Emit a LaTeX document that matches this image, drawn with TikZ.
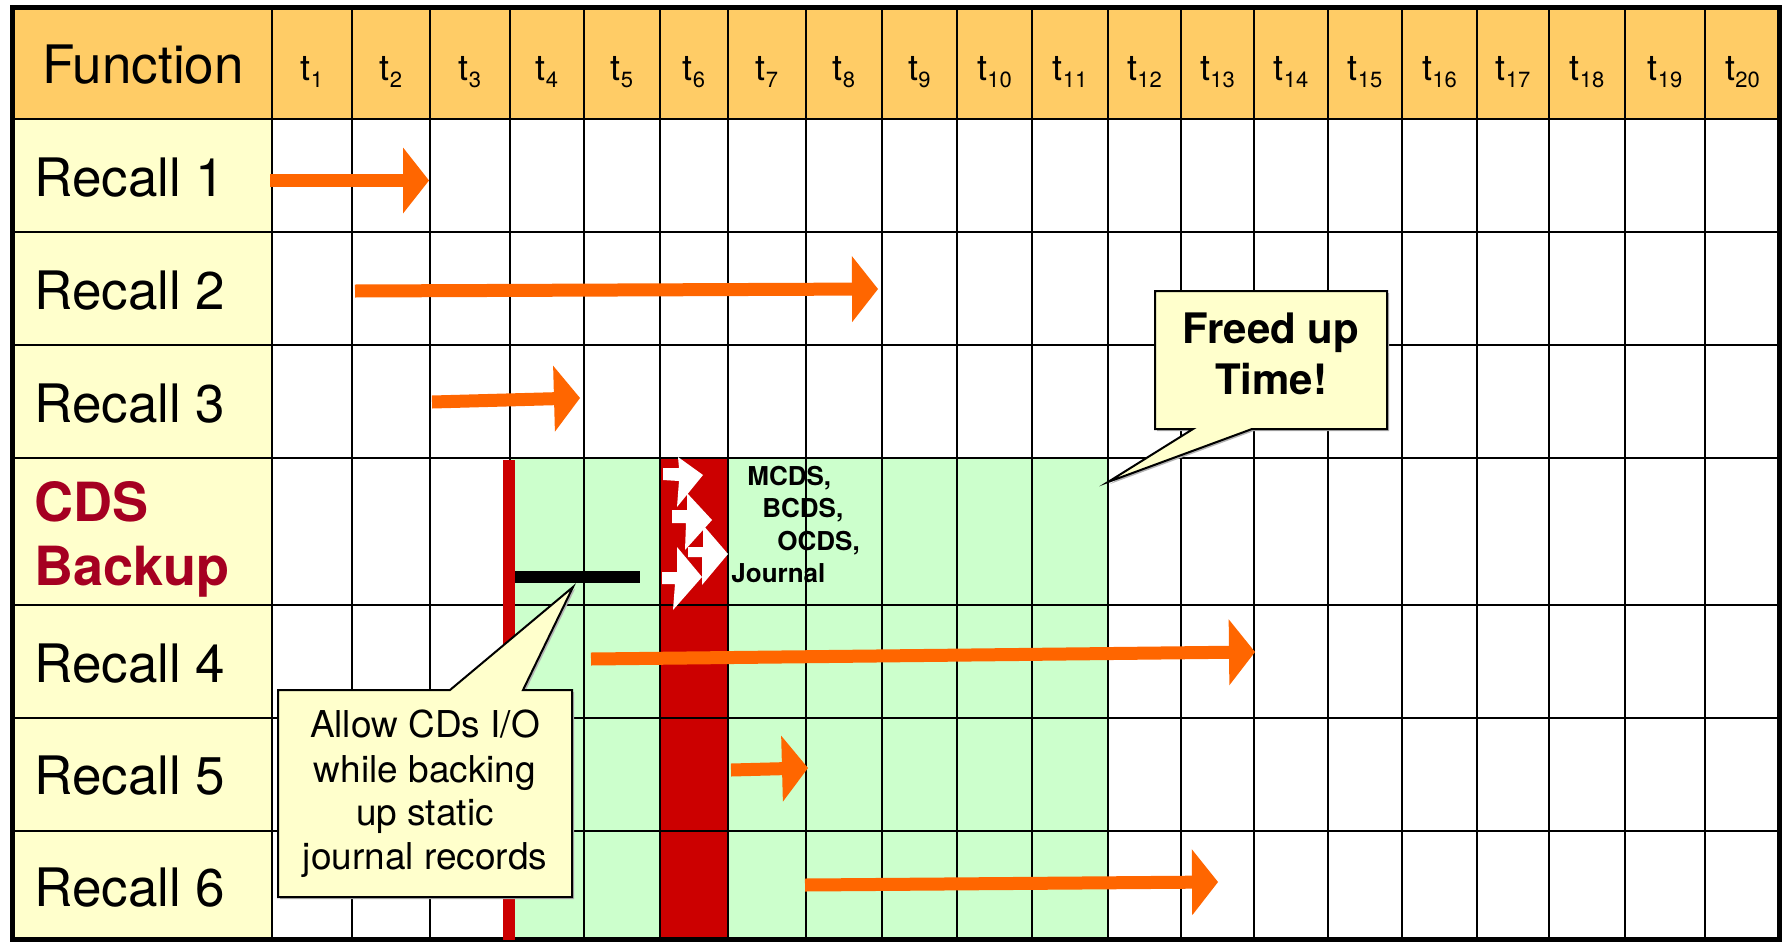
\documentclass[tikz,border=0pt]{standalone}
\usepackage{fontspec}
\setmainfont{TeX Gyre Heros}
\usetikzlibrary{arrows.meta}
\definecolor{hdr}{HTML}{FFCC66}
\definecolor{lbl}{HTML}{FFFFCC}
\definecolor{grn}{HTML}{CCFFCC}
\definecolor{cdsred}{HTML}{A50021}
\definecolor{blockred}{HTML}{CC0000}
\definecolor{org}{HTML}{FF6600}
\newcommand\tsub[1]{t\raisebox{-3.5pt}{\fontsize{11}{11}\selectfont #1}}
\begin{document}
\begin{tikzpicture}[x=0.5pt,y=-0.5pt,
  gridline/.style={line width=1.4pt,black},
  lab/.style={anchor=base west,inner sep=0pt,font=\fontsize{26.5}{30}\selectfont},
  cdslab/.style={anchor=base west,inner sep=0pt,text=cdsred,font=\bfseries\fontsize{27}{30}\selectfont},
  hd/.style={anchor=base,inner sep=0pt,font=\fontsize{18}{20}\selectfont},
  garrow/.style={draw=org,line width=6.5pt,-{Triangle[length=13pt,width=33pt,line width=0pt]}},
  warrow/.style={fill=white,draw=none},
  callout/.style={fill=lbl,draw=black,line width=1pt,line join=miter},
  cshadow/.style={fill=black!30,draw=none},
  ctext/.style={anchor=base,inner sep=0pt,font=\fontsize{18.5}{22}\selectfont},
  ftext/.style={anchor=base,inner sep=0pt,font=\bfseries\fontsize{21}{25}\selectfont},
  smalllab/.style={anchor=base west,inner sep=0pt,font=\bfseries\fontsize{13}{15}\selectfont}]
\useasboundingbox (0,0) rectangle (1782,942);
\fill[white] (0,0) rectangle (1782,942);
% fills
\fill[hdr] (12,7) rectangle (1780,119);
\fill[lbl] (12,119) rectangle (272,940);
\fill[grn] (509,458) rectangle (1108,940);
\fill[blockred] (660,458) rectangle (728,940);
% grid
\foreach \x in {272,352,430,510,584,660,728,806,882,957,1032,1108,1181,1254,1328,1402,1477,1549,1625,1705}
  \draw[gridline] (\x,7) -- (\x,940);
\foreach \y in {119,232,345,458,605,718,831}
  \draw[gridline] (12,\y) -- (1780,\y);
% frame
\draw[line width=2.5pt] (12.5,7) rectangle (1779.5,939.5);
% red thin line and black bar
\draw[blockred,line width=6pt] (509,460) -- (509,940);
\coordinate (bar1) at (515,577);
\coordinate (bar2) at (640,577);
\draw[black,line width=6pt] (bar1) -- (bar2);
% header labels
\node[anchor=base west,inner sep=0pt,font=\fontsize{26.5}{30}\selectfont] (fn) at (42,83) {Function};
\foreach \i/\cx in {1/312,2/391,3/470,4/547,5/622,6/694,7/767,8/844,9/919.5,10/994.5,11/1070,12/1144.5,13/1217.5,14/1291,15/1365,16/1439.5,17/1513,18/1587,19/1665,20/1742.5}
  \node[hd] (t\i) at (\cx,80) {\tsub{\i}};
% row labels
\node[lab] (r1) at (34,196) {Recall 1};
\node[lab] (r2) at (34,309) {Recall 2};
\node[lab] (r3) at (34,422) {Recall 3};
\node[cdslab] (cds1) at (34,521) {CDS};
\node[cdslab] (cds2) at (34,585) {Backup};
\node[lab] (r4) at (34,682) {Recall 4};
\node[lab] (r5) at (34,794) {Recall 5};
\node[lab] (r6) at (34,906) {Recall 6};
% orange arrows
\coordinate (a1s) at (270,180.5); \coordinate (a1e) at (429,180.5);
\coordinate (a2s) at (355,291);   \coordinate (a2e) at (878,289);
\coordinate (a3s) at (432,402);   \coordinate (a3e) at (580,398);
\coordinate (a4s) at (591,659);   \coordinate (a4e) at (1255,652);
\coordinate (a5s) at (731,770);   \coordinate (a5e) at (808,768);
\coordinate (a6s) at (805,885);   \coordinate (a6e) at (1218,882);
\foreach \k in {1,...,6} \draw[garrow] (a\k s) -- (a\k e);
% white arrows in red block
\fill[warrow] (663,468) -- (679,468) -- (678,457) -- (703,475) -- (677,507) -- (679,481) -- (663,480) -- cycle;
\fill[warrow] (672,510) -- (687,510) -- (687,493) -- (712,520) -- (685,550) -- (686,523) -- (672,523) -- cycle;
\fill[warrow] (688,547) -- (703,547) -- (703,525) -- (728,554) -- (702,585) -- (702,557) -- (688,557) -- cycle;
\fill[warrow] (662,572) -- (677,572) -- (677,547) -- (702,577) -- (673,610) -- (675,584) -- (662,584) -- cycle;
% small labels
\node[smalllab] (m1) at (747,485) {MCDS,};
\node[smalllab] (m2) at (762,517) {BCDS,};
\node[smalllab] (m3) at (777,550) {OCDS,};
\node[smalllab] (m4) at (731,582) {Journal};
% callout: Freed up Time!
\fill[cshadow] (1157,293) -- (1389,293) -- (1389,431) -- (1254,431) -- (1110,484) -- (1195,431) -- (1157,431) -- cycle;
\draw[callout] (1155,291) -- (1387,291) -- (1387,429) -- (1252,429) -- (1108,482) -- (1193,429) -- (1155,429) -- cycle;
\node[ftext] (f1) at (1271,343) {Freed up};
\node[ftext] (f2) at (1271,394) {Time!};
% callout: Allow CDs I/O
\fill[cshadow] (280,692) -- (452,692) -- (575,589) -- (525,692) -- (574,692) -- (574,899) -- (280,899) -- cycle;
\draw[callout] (278,690) -- (450,690) -- (573,587) -- (523,690) -- (572,690) -- (572,897) -- (278,897) -- cycle;
\node[ctext] (c1) at (425,737) {Allow CDs I/O};
\node[ctext] (c2) at (425,782) {while backing};
\node[ctext] (c3) at (425,825) {up static};
\node[ctext] (c4) at (425,869) {journal records};
\end{tikzpicture}
\end{document}
